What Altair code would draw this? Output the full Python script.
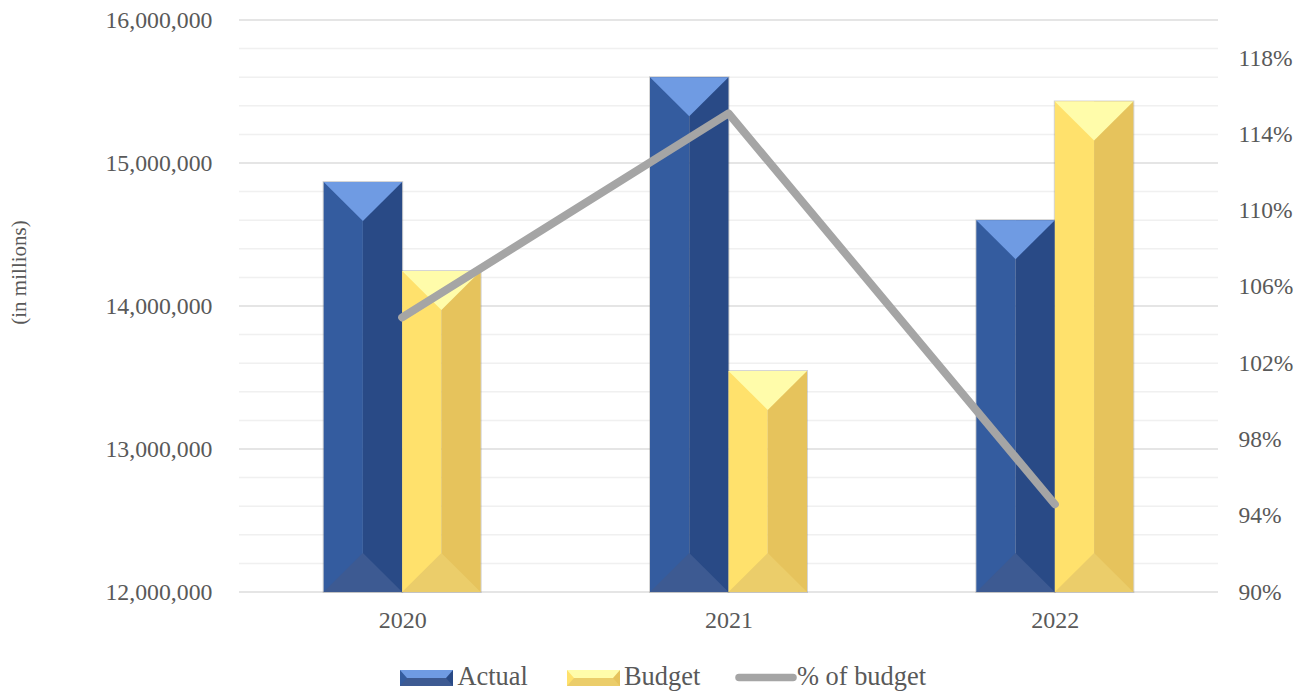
import altair as alt
import pandas as pd

years = [2020, 2021, 2022]
actual = [14867000, 15600000, 14600000]
budget = [14245000, 13545000, 15430000]
pct_of_budget = [104.4, 115.1, 94.6]
major_ticks = [12000000, 13000000, 14000000, 15000000, 16000000]
minor_ticks = [12200000, 12400000, 12600000, 12800000, 13200000, 13400000, 13600000, 13800000,
               14200000, 14400000, 14600000, 14800000, 15200000, 15400000, 15600000, 15800000]
pct_ticks = [90, 94, 98, 102, 106, 110, 114, 118]
actual_cols = dict(top="#6f9be3", left="#345c9f", right="#294a86", bottom="#3d5a92")
budget_cols = dict(top="#fffcaa", left="#ffe16c", right="#e6c35c", bottom="#ebcd6a")
TEXT = "#595959"
FONT = "Liberation Serif"

W, H = 979, 572
LEFT, TOP = 239, 20
xd = [2019.5, 2022.5]
yd = [12000000, 16000000]
dx = (xd[1] - xd[0]) / W
dy = (yd[1] - yd[0]) / H
px = lambda p: xd[0] + (p - LEFT) * dx
py = lambda p: yd[0] + (TOP + H - p) * dy

rows, shadows = [], []
gid = 0


def bevel(x0, x1, y0, y1, bx, by, c):
    """y1 is the top, y0 the bottom."""
    global gid
    xm = (x0 + x1) / 2
    polys = [
        (c["left"], [(x0, y0, y1), (xm, y0, y1)]),
        (c["right"], [(xm, y0, y1), (x1, y0, y1)]),
        (c["top"], [(x0, y1, y1), (x0 + bx, y1 - by, y1), (x1 - bx, y1 - by, y1), (x1, y1, y1)]),
        (c["bottom"], [(x0, y0, y0), (x0 + bx, y0 + by, y0), (x1 - bx, y0 + by, y0), (x1, y0, y0)]),
    ]
    for col, pts in polys:
        gid += 1
        for a, b, d in pts:
            rows.append(dict(gid=f"g{gid:03d}", col=col, px=a, lo=b, hi=d))


bar_w = 78.5 * dx
for yr, a, b in zip(years, actual, budget):
    bevel(yr - bar_w, yr, yd[0], a, bar_w / 2, 39 * dy, actual_cols)
    bevel(yr, yr + bar_w, yd[0], b, bar_w / 2, 39 * dy, budget_cols)
    shadows.append(dict(x=yr - bar_w, x2=yr, y=yd[0], y2=a))
    shadows.append(dict(x=yr, x2=yr + bar_w, y=yd[0], y2=b))

# legend swatches in chart coordinates
bevel(px(400), px(453), py(686), py(670), 7 * dx, 8 * dy, actual_cols)
bevel(px(567), px(620), py(686), py(670), 7 * dx, 8 * dy, budget_cols)
legend_line = pd.DataFrame([dict(x=px(739), x2=px(793), y=py(677.5))])
legend_text = pd.DataFrame([
    dict(x=px(457.5), y=py(677), t="Actual"),
    dict(x=px(624), y=py(677), t="Budget"),
    dict(x=px(797), y=py(677), t="% of budget"),
])

xscale = alt.Scale(domain=xd, nice=False, zero=False)
yscale = alt.Scale(domain=yd, nice=False, zero=False)
rscale = alt.Scale(domain=[90, 120], nice=False, zero=False)

xaxis = alt.Axis(values=years, labelExpr="format(datum.value, 'd')", title=None, grid=False, domain=False, ticks=False,
                 labelFont=FONT, labelFontSize=24, labelColor=TEXT, labelPadding=16)
yaxis = alt.Axis(values=major_ticks, labelExpr="format(datum.value, ',')", title="(in millions)", grid=False,
                 domain=False, ticks=False,
                 labelFont=FONT, labelFontSize=23.8, labelColor=TEXT, labelPadding=27,
                 titleFont=FONT, titleFontSize=21, titleFontWeight="normal", titleColor=TEXT,
                 titleX=-210, titleY=252)
raxis = alt.Axis(values=pct_ticks, labelExpr="datum.value + '%'", title=None, grid=False,
                 domain=False, ticks=False, orient="right",
                 labelFont=FONT, labelFontSize=23.5, labelColor=TEXT, labelPadding=20)

X = alt.X("x:Q", scale=xscale, axis=xaxis)
Y = alt.Y("y:Q", scale=yscale, axis=yaxis)

minor = alt.Chart(pd.DataFrame({"y": minor_ticks})).mark_rule(color="#f0f0f0", strokeWidth=1.5).encode(y=Y)
major = alt.Chart(pd.DataFrame({"y": major_ticks})).mark_rule(color="#dcdcdc", strokeWidth=1.5).encode(y=Y)

shadow = alt.Chart(pd.DataFrame(shadows)).mark_rect(fill="#777777", stroke="#777777", strokeWidth=2, opacity=0.3).encode(
    x=X, x2="x2:Q", y=Y, y2="y2:Q")

faces = alt.Chart(pd.DataFrame(rows)).mark_area(orient="vertical").encode(
    x=alt.X("px:Q", scale=xscale, axis=xaxis),
    y=alt.Y("lo:Q", scale=yscale, axis=yaxis),
    y2="hi:Q",
    color=alt.Color("col:N", scale=None),
    detail="gid:N",
)

leg_line = alt.Chart(legend_line).mark_rule(color="#a5a5a5", strokeWidth=7.5, strokeCap="round").encode(
    x=X, x2="x2:Q", y=Y)

leg_text = alt.Chart(legend_text).mark_text(align="left", baseline="middle", font=FONT, fontSize=26.4, color=TEXT).encode(
    x=X, y=Y, text="t:N")

left = alt.layer(minor, major, shadow, faces, leg_line, leg_text)

line = alt.Chart(pd.DataFrame({"year": years, "pct": pct_of_budget})).mark_line(
    color="#a5a5a5", strokeWidth=8, strokeCap="round", strokeJoin="round").encode(
    x=alt.X("year:Q", scale=xscale, axis=xaxis),
    y=alt.Y("pct:Q", scale=rscale, axis=raxis),
)

chart = alt.layer(left, line).resolve_scale(y="independent").properties(
    width=W, height=H,
    padding={"left": LEFT - 8, "top": TOP - 8, "right": 1299 - LEFT - W, "bottom": 100},
    autosize=alt.AutoSizeParams(type="none"),
).configure_view(stroke=None)

chart.save("out.html", embed_options={"renderer": "svg", "actions": False})
